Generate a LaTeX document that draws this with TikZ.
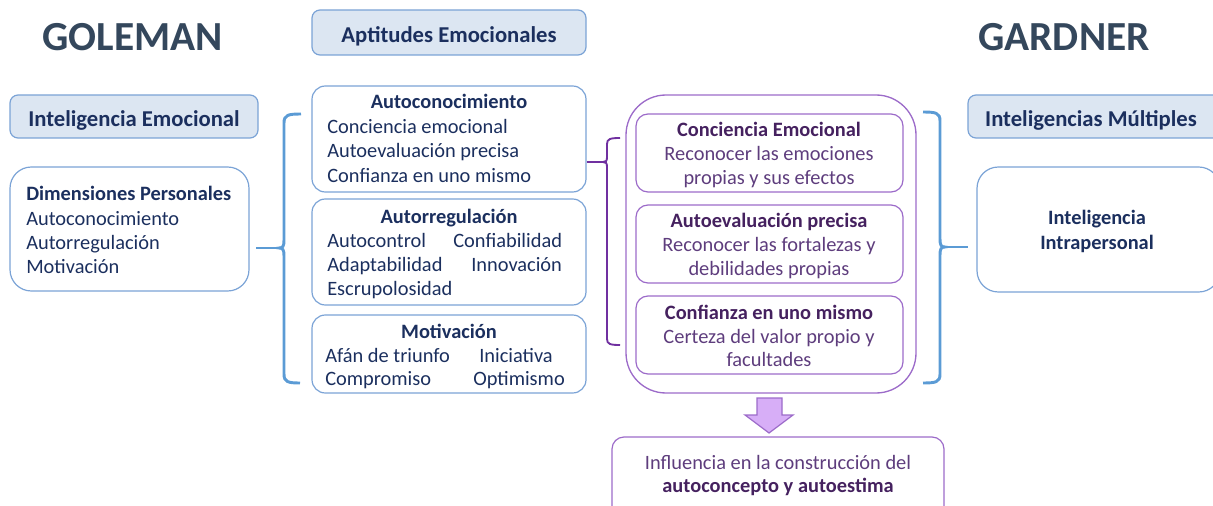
\documentclass[tikz,border=0pt]{standalone}
\usepackage{fontspec}
\setmainfont{Carlito}
\usetikzlibrary{fit}
\definecolor{navy}{HTML}{1B2F5E}
\definecolor{bborder}{HTML}{7BA3D6}
\definecolor{bfill}{HTML}{DCE6F2}
\definecolor{bbrack}{HTML}{5B9BD5}
\definecolor{pborder}{HTML}{9C6BC9}
\definecolor{ptitle}{HTML}{45215F}
\definecolor{ptext}{HTML}{5E3D7D}
\definecolor{pbrack}{HTML}{7030A0}
\definecolor{pfill}{HTML}{D7AEF7}
\definecolor{ttl}{HTML}{34475C}
\begin{document}
\begin{tikzpicture}[x=0.75pt,y=-0.75pt,
  fnt/.style={font=\fontsize{15.3}{18}\selectfont},
  bfnt/.style={font=\fontsize{15.3}{18}\selectfont\bfseries},
  hfnt/.style={font=\fontsize{17}{20}\selectfont\bfseries},
  headbox/.style={draw=bborder, fill=bfill, line width=0.9pt, rounded corners=6pt, inner sep=0pt},
  bluebox/.style={draw=bborder, line width=0.9pt, rounded corners=10pt, inner sep=0pt},
  roundbox/.style={draw=bborder, line width=0.9pt, rounded corners=16pt, inner sep=0pt},
  bigpbox/.style={draw=pborder, line width=1pt, rounded corners=30pt, inner sep=0pt},
  pbox/.style={draw=pborder, line width=0.9pt, rounded corners=9pt, inner sep=0pt},
  txt/.style={fnt, text=navy, inner sep=0pt, anchor=base west, yshift=-1.5pt},
  btxt/.style={bfnt, text=navy, inner sep=0pt, anchor=base, yshift=-1.5pt},
  htxt/.style={hfnt, text=navy, inner sep=0pt, anchor=base, yshift=-1pt},
  ptxt/.style={fnt, text=ptext, inner sep=0pt, anchor=base, yshift=-1.5pt},
  pbtxt/.style={bfnt, text=ptitle, inner sep=0pt, anchor=base, yshift=-1.5pt},
  bluebr/.style={draw=bbrack, line width=2.2pt},
  purplebr/.style={draw=pbrack, line width=1.4pt},
  bigtitle/.style={font=\fontsize{31}{36}\selectfont\bfseries, inner sep=0pt, anchor=base, text=ttl},
  arrowst/.style={draw=pborder, fill=pfill, line width=0.9pt, line join=miter}
]
\useasboundingbox (0,0) rectangle (1213,506);

% Titles
\node[bigtitle] (gol) at (132.5,51) {GOLEMAN};
\node[bigtitle] (gar) at (1064,51) {GARDNER};

% Left column
\node[headbox, fit={(10,95)(258,138)}] (ie) {};
\node[htxt] (ietx) at (134,125) {Inteligencia Emocional};
\node[roundbox, fit={(10,167)(249,291)}] (dim) {};
\node[txt, font=\fontsize{15.3}{18}\selectfont\bfseries] (dim1) at (26,198) {Dimensiones Personales};
\node[txt] (dim2) at (26,223) {Autoconocimiento};
\node[txt] (dim3) at (26,247) {Autorregulación};
\node[txt] (dim4) at (26,271) {Motivación};

% Middle column
\node[headbox, fit={(312,10)(586,55)}] (apt) {};
\node[htxt] (apttx) at (449,41) {Aptitudes Emocionales};

\node[bluebox, fit={(312,86)(586,192)}] (ac) {};
\node[btxt] (ac0) at (449,107) {Autoconocimiento};
\node[txt] (ac1) at (327,132) {Conciencia emocional};
\node[txt] (ac2) at (327,156) {Autoevaluación precisa};
\node[txt] (ac3) at (327,180) {Confianza en uno mismo};

\node[bluebox, fit={(312,199)(586,305)}] (ar) {};
\node[btxt] (ar0) at (449,221) {Autorregulación};
\node[txt] (ar1) at (327,245) {Autocontrol};
\node[txt] (ar2) at (453,245) {Confiabilidad};
\node[txt] (ar3) at (327,269) {Adaptabilidad};
\node[txt] (ar4) at (471,269) {Innovación};
\node[txt] (ar5) at (327,293) {Escrupolosidad};

\node[bluebox, fit={(312,315)(586,393)}] (mo) {};
\node[btxt] (mo0) at (449,336) {Motivación};
\node[txt] (mo1) at (325,360) {Afán de triunfo};
\node[txt] (mo2) at (479,360) {Iniciativa};
\node[txt] (mo3) at (325,383) {Compromiso};
\node[txt] (mo4) at (473,383) {Optimismo};

% Purple column
\node[bigpbox, fit={(626,95)(916,393)}] (big) {};
\node[pbox, fit={(636,114)(903,192)}] (p1) {};
\node[pbtxt] (p1a) at (769,135) {Conciencia Emocional};
\node[ptxt] (p1b) at (769,159) {Reconocer las emociones};
\node[ptxt] (p1c) at (769,183) {propias y sus efectos};
\node[pbox, fit={(636,205)(903,283)}] (p2) {};
\node[pbtxt] (p2a) at (769,225) {Autoevaluación precisa};
\node[ptxt] (p2b) at (769,249) {Reconocer las fortalezas y};
\node[ptxt] (p2c) at (769,273) {debilidades propias};
\node[pbox, fit={(636,296)(903,374)}] (p3) {};
\node[pbtxt] (p3a) at (769,317) {Confianza en uno mismo};
\node[ptxt] (p3b) at (769,341) {Certeza del valor propio y};
\node[ptxt] (p3c) at (769,364) {facultades};

% Down arrow
\draw[arrowst] (757,398) -- (782,398) -- (782,415) -- (793,415) -- (769,433) -- (745,415) -- (757,415) -- cycle;

% Influence box
\node[pbox, fit={(612,437)(944,520)}] (inf) {};
\node[ptxt] (inf1) at (778,467) {Influencia en la construcción del};
\node[pbtxt] (inf2) at (778,490) {autoconcepto y autoestima};

% Right column
\node[headbox, fit={(968,95)(1226,138)}] (im) {};
\node[htxt] (imtx) at (1091,125) {Inteligencias Múltiples};
\node[roundbox, fit={(977,167)(1220,292)}] (ip) {};
\node[btxt] (ip1) at (1097,222) {Inteligencia};
\node[btxt] (ip2) at (1097,247) {Intrapersonal};

% Left blue bracket
\coordinate (lstub) at (256,248);
\coordinate (lcusp) at (279,248);
\draw[bluebr] (301,114) .. controls (288,114) and (284,115) .. (284,123) -- (284,240)
  .. controls (284,246) and (283,248) .. (lcusp)
  .. controls (283,248) and (284,250) .. (284,256) -- (284,374)
  .. controls (284,382) and (288,383) .. (300,383);
\draw[bluebr] (lstub) -- (lcusp);

% Purple bracket
\coordinate (pcusp) at (603,162);
\draw[purplebr] (ac.east |- pcusp) -- (pcusp);
\draw[purplebr] (620,138) .. controls (610,138) and (607,139) .. (607,144) -- (607,157)
  .. controls (607,161) and (606,162) .. (pcusp)
  .. controls (606,162) and (607,163) .. (607,167) -- (607,339)
  .. controls (607,344) and (610,345) .. (620,345);

% Right blue bracket
\coordinate (rstub) at (968,247);
\coordinate (rcusp) at (945,247);
\draw[bluebr] (923,112) .. controls (936,112) and (940,113) .. (940,121) -- (940,239)
  .. controls (940,245) and (941,247) .. (rcusp)
  .. controls (941,247) and (940,249) .. (940,255) -- (940,374)
  .. controls (940,382) and (936,383) .. (923,383);
\draw[bluebr] (rcusp) -- (rstub);
\end{tikzpicture}
\end{document}
